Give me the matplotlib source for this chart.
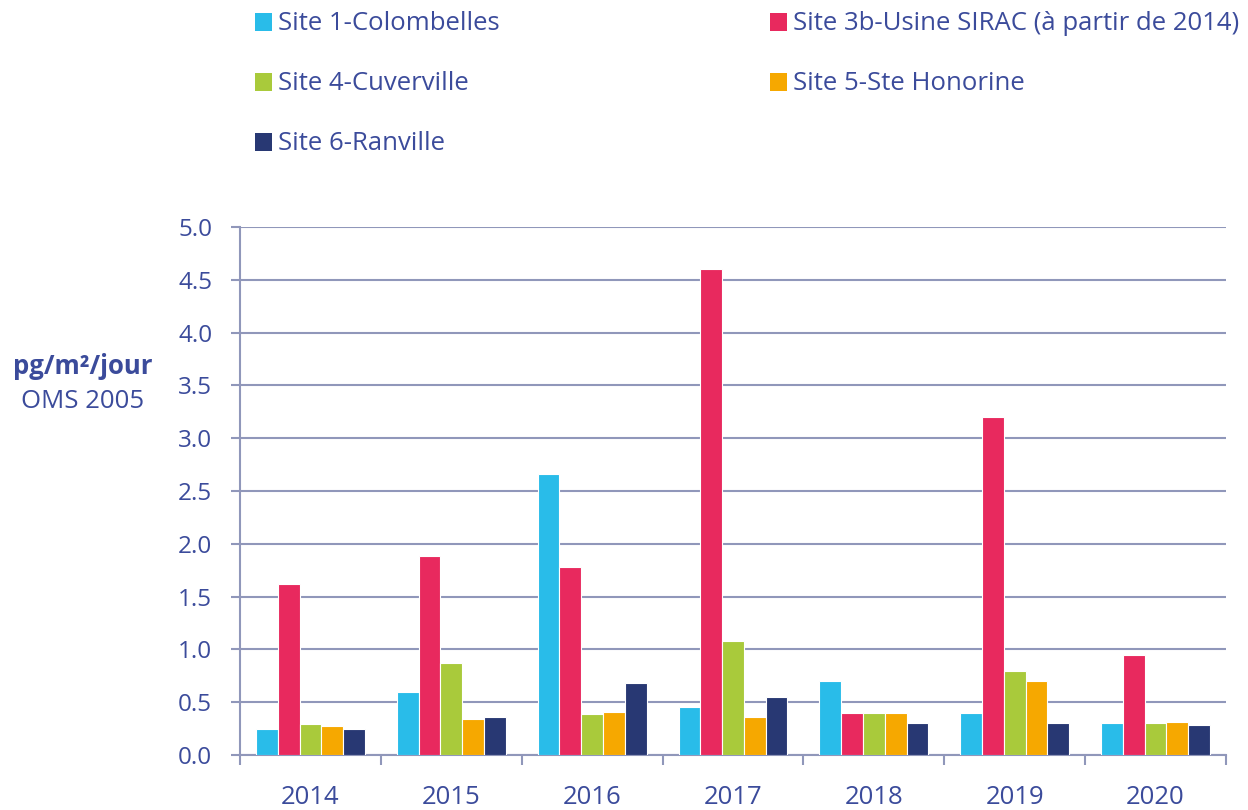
import matplotlib.pyplot as plt
import numpy as np
from matplotlib.patches import Rectangle

plt.rcParams["font.family"] = ["Open Sans", "DejaVu Sans"]

years = ["2014", "2015", "2016", "2017", "2018", "2019", "2020"]
sites = [
    "Site 1-Colombelles",
    "Site 3b-Usine SIRAC (à partir de 2014)",
    "Site 4-Cuverville",
    "Site 5-Ste Honorine",
    "Site 6-Ranville",
]
site1 = [0.25, 0.60, 2.66, 0.45, 0.70, 0.40, 0.30]
site3b = [1.62, 1.88, 1.78, 4.60, 0.40, 3.20, 0.95]
site4 = [0.29, 0.87, 0.39, 1.08, 0.40, 0.80, 0.30]
site5 = [0.27, 0.34, 0.41, 0.36, 0.40, 0.70, 0.31]
site6 = [0.25, 0.36, 0.68, 0.55, 0.30, 0.30, 0.28]
y_ticks = [0.0, 0.5, 1.0, 1.5, 2.0, 2.5, 3.0, 3.5, 4.0, 4.5, 5.0]

series = [site1, site3b, site4, site5, site6]
colors = ["#29BCE9", "#E8295E", "#A9CA3B", "#F6A800", "#283873"]
text_color = "#3B4B9B"
grid_color = "#9097BA"

W, H = 1248, 810
fig = plt.figure(figsize=(W / 100, H / 100), dpi=100)
ax = fig.add_axes([240 / W, 1 - 755 / H, 986 / W, 528 / H])

x = np.arange(len(years))
width = 0.1546
for i, (vals, col) in enumerate(zip(series, colors)):
    ax.bar(x + (i - 2) * width, vals, width, color=col,
           edgecolor="white", linewidth=0.8, zorder=3)

ax.set_xlim(-0.5, len(years) - 0.5)
ax.set_ylim(0, 5.0)
ax.set_yticks(y_ticks)
ax.set_yticklabels([f"{v:.1f}" for v in y_ticks])
ax.set_xticks(x)
ax.set_xticklabels(years)
ax.set_xticks(np.arange(-0.5, len(years)), minor=True)

ax.grid(axis="y", color=grid_color, linewidth=1.5, zorder=0)
for side in ["top", "right"]:
    ax.spines[side].set_visible(False)
for side in ["left", "bottom"]:
    ax.spines[side].set_color(grid_color)
    ax.spines[side].set_linewidth(1.5)

ax.tick_params(axis="y", colors=grid_color, labelcolor=text_color,
               labelsize=17.5, length=6.5, width=1.5, pad=13.5)
ax.tick_params(axis="x", which="major", length=0, labelcolor=text_color,
               labelsize=18.5, pad=21.5)
ax.tick_params(axis="x", which="minor", length=7, width=1.5,
               color=grid_color)

fig.text(83 / W, 1 - 367 / H, "pg/m²/jour", ha="center", va="center",
         fontsize=18.5, fontweight="bold", color=text_color)
fig.text(83 / W, 1 - 402 / H, "OMS 2005", ha="center", va="center",
         fontsize=18.5, color=text_color)

# legend laid out as in the source: two columns, rows 60 px apart
legend_pos = [(255, 22), (770, 22), (255, 82), (770, 82), (255, 142)]
box = 17
for (lx, ly), name, col in zip(legend_pos, sites, colors):
    fig.patches.append(Rectangle((lx / W, 1 - (ly + box / 2) / H),
                                 box / W, box / H, facecolor=col,
                                 edgecolor="none",
                                 transform=fig.transFigure, figure=fig))
    fig.text((lx + box + 6) / W, 1 - (ly + 1) / H, name, ha="left",
             va="center", fontsize=18.5, color=text_color)

fig.savefig("out.png", dpi=100)
